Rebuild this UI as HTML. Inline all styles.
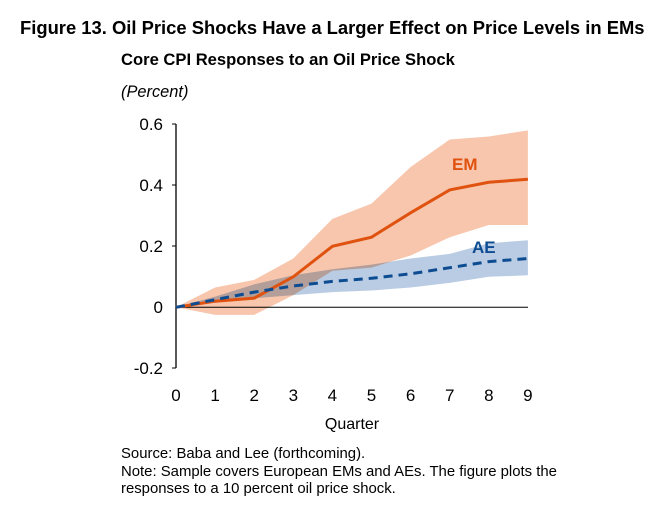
<!DOCTYPE html>
<html><head><style>
body{margin:0;background:#fff;width:661px;height:520px;overflow:hidden;font-family:"Liberation Sans",Arial,sans-serif}
</style></head><body>
<svg width="661" height="520" xmlns="http://www.w3.org/2000/svg" font-family="Liberation Sans, Arial, sans-serif">
<text x="20" y="34" font-size="18.4" font-weight="bold" fill="#000">Figure 13. Oil Price Shocks Have a Larger Effect on Price Levels in EMs</text>
<text x="121" y="65" font-size="16.6" font-weight="bold" fill="#000">Core CPI Responses to an Oil Price Shock</text>
<text x="121" y="97" font-size="16.4" font-style="italic" fill="#000">(Percent)</text>
<polygon fill="#f7c6ad" points="176,307.3 215.1,287.5 254.2,279.9 293.3,258.5 332.4,218.9 371.5,203.6 410.6,167 449.7,139.5 488.8,136.5 527.9,130.4 527.9,225 488.8,225 449.7,237.2 410.6,255.5 371.5,267.6 332.4,270.7 293.3,295.1 254.2,314.9 215.1,314.9"/>
<polygon fill="#7fa3cc" fill-opacity="0.55" style="mix-blend-mode:multiply" points="176,307.3 215.1,296.6 254.2,284.4 293.3,275.3 332.4,269.2 371.5,264.6 410.6,258.5 449.7,253.9 488.8,243.3 527.9,240.2 527.9,275.3 488.8,276.8 449.7,282.9 410.6,287.5 371.5,290.5 332.4,292.1 293.3,295.1 254.2,298.2 215.1,302.7"/>
<line x1="176" y1="307.3" x2="528" y2="307.3" stroke="#000" stroke-width="1"/>
<line x1="176" y1="124" x2="176" y2="368" stroke="#000" stroke-width="1.3"/>
<g stroke="#000" stroke-width="1"><line x1="172" y1="124" x2="176" y2="124"/><line x1="172" y1="185" x2="176" y2="185"/><line x1="172" y1="246" x2="176" y2="246"/><line x1="172" y1="368" x2="176" y2="368"/></g>
<polyline fill="none" stroke="#e0520f" stroke-width="3" points="176,307.3 215.1,301.2 254.2,298.1 293.3,276.8 332.4,246.3 371.5,237.2 410.6,212.8 449.7,189.9 488.8,182.3 527.9,179.2"/>
<polyline fill="none" stroke="#0e4c92" stroke-width="3" stroke-dasharray="9,6" points="176,307.3 215.1,299.7 254.2,292.1 293.3,286 332.4,281.4 371.5,278.3 410.6,273.8 449.7,267.7 488.8,261.6 527.9,258.5"/>
<text x="452" y="170" font-size="17" font-weight="bold" fill="#e0520f">EM</text>
<text x="472" y="253" font-size="17" font-weight="bold" fill="#0e4c92">AE</text>
<g font-size="17" fill="#000" text-anchor="end">
<text x="163" y="130">0.6</text><text x="163" y="191">0.4</text><text x="163" y="252">0.2</text><text x="163" y="313">0</text><text x="163" y="374">-0.2</text>
</g>
<g font-size="17" fill="#000" text-anchor="middle">
<text x="176" y="401">0</text><text x="215.1" y="401">1</text><text x="254.2" y="401">2</text><text x="293.3" y="401">3</text><text x="332.4" y="401">4</text><text x="371.5" y="401">5</text><text x="410.6" y="401">6</text><text x="449.7" y="401">7</text><text x="488.8" y="401">8</text><text x="527.9" y="401">9</text>
<text x="352" y="429" font-size="16">Quarter</text>
</g>
<g font-size="14.9" fill="#000">
<text x="121" y="458">Source: Baba and Lee (forthcoming).</text>
<text x="121" y="476">Note: Sample covers European EMs and AEs. The figure plots the</text>
<text x="121" y="493">responses to a 10 percent oil price shock.</text>
</g>
</svg>
</body></html>
